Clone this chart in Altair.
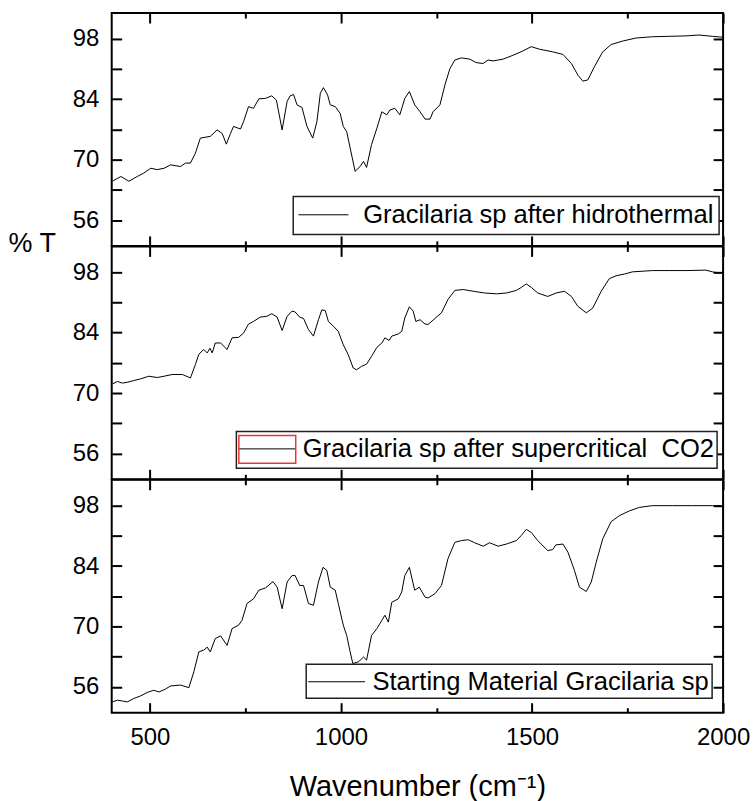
import altair as alt
import pandas as pd

FONT = "Liberation Sans"
W = 613
H = 233.5
X_DOMAIN = [400, 2000]
Y_DOMAIN = [50, 104]
MAJOR_X = [500, 1000, 1500, 2000]
MINOR_X = [750, 1250, 1750]
Y_TICKS = [56, 63, 70, 77, 84, 91, 98]

label_hydro = "Gracilaria sp after hidrothermal"
label_sc = "Gracilaria sp after supercritical\u00a0 CO2"
label_start = "Starting Material Gracilaria sp"

wn_hydro = [402, 424, 445, 467, 484, 502, 519, 537, 554, 580, 593, 606, 619, 632, 658, 676,
            689, 700, 711, 719, 737, 745, 758, 771, 785, 802, 819, 831, 846, 859, 867, 876,
            885, 898, 911, 926, 937, 946, 954, 965, 972, 985, 998, 1006, 1015, 1024, 1037,
            1050, 1059, 1067, 1080, 1094, 1107, 1120, 1128, 1141, 1154, 1167, 1179, 1193,
            1207, 1220, 1233, 1241, 1259, 1272, 1285, 1298, 1315, 1337, 1354, 1372, 1385,
            1398, 1424, 1450, 1476, 1498, 1520, 1554, 1581, 1603, 1620, 1633, 1646, 1663,
            1685, 1707, 1737, 1772, 1815, 1859, 1903, 1937, 1972, 1998]
t_hydro = [65.0, 66.1, 65.0, 66.1, 66.9, 68.0, 67.7, 68.0, 68.8, 68.4, 69.2, 69.2, 71.5, 75.0,
           75.4, 76.9, 76.1, 73.6, 76.1, 77.7, 77.1, 78.8, 82.3, 81.9, 84.1, 84.2, 84.8, 83.8,
           76.9, 83.5, 84.8, 85.1, 82.7, 82.1, 77.7, 75.0, 78.8, 85.4, 86.7, 85.0, 82.7, 82.3,
           80.7, 77.7, 76.5, 72.7, 67.3, 68.4, 69.6, 68.2, 73.5, 77.3, 81.1, 80.4, 81.5, 81.9,
           80.4, 84.2, 85.8, 82.7, 81.1, 79.4, 79.4, 81.1, 82.7, 87.3, 91.1, 93.1, 93.6, 93.3,
           92.5, 92.3, 93.1, 92.9, 93.3, 94.2, 95.2, 96.2, 95.6, 95.0, 94.4, 92.3, 89.6, 88.2,
           88.5, 91.5, 95.0, 96.7, 97.5, 98.2, 98.5, 98.6, 98.7, 98.9, 98.6, 98.4]

wn_sc = [402, 415, 428, 441, 458, 476, 497, 519, 537, 558, 585, 606, 619, 628, 641, 650, 657,
         663, 671, 685, 702, 715, 732, 745, 758, 771, 789, 806, 819, 833, 846, 859, 872, 880,
         892, 902, 915, 928, 941, 950, 959, 967, 980, 993, 1006, 1019, 1032, 1041, 1054, 1067,
         1080, 1094, 1107, 1115, 1126, 1133, 1150, 1159, 1167, 1179, 1189, 1196, 1207, 1220,
         1228, 1246, 1263, 1280, 1298, 1320, 1346, 1376, 1407, 1433, 1459, 1472, 1485, 1498,
         1515, 1541, 1563, 1585, 1603, 1620, 1642, 1659, 1681, 1702, 1720, 1742, 1763, 1815,
         1859, 1903, 1955, 1972, 1994]
t_sc = [72.1, 72.7, 72.3, 72.5, 72.9, 73.3, 73.9, 73.6, 73.9, 74.3, 74.3, 73.5, 76.6, 79.0,
        80.1, 79.3, 80.4, 79.3, 81.6, 81.6, 80.1, 82.8, 82.9, 83.9, 86.0, 86.6, 87.6, 87.8,
        88.4, 87.6, 84.5, 87.8, 89.0, 88.8, 87.6, 87.3, 84.7, 83.2, 87.0, 89.3, 89.1, 86.6,
        85.5, 84.3, 81.2, 78.9, 75.8, 75.4, 76.2, 76.7, 78.5, 80.6, 81.6, 82.8, 82.2, 83.2,
        83.7, 84.3, 87.4, 90.0, 89.0, 86.6, 87.0, 86.0, 85.9, 87.3, 88.6, 91.7, 93.8, 94.0,
        93.6, 93.2, 93.0, 93.2, 93.8, 94.5, 95.3, 94.5, 93.2, 92.4, 93.2, 93.6, 92.4, 90.1,
        88.6, 89.7, 93.6, 96.5, 97.2, 97.6, 98.1, 98.4, 98.4, 98.4, 98.5, 98.1, 97.8]

wn_start = [402, 415, 428, 441, 458, 476, 493, 510, 524, 541, 554, 580, 602, 615, 628, 641,
            650, 658, 671, 685, 702, 715, 732, 741, 754, 771, 785, 802, 822, 833, 846, 859,
            872, 880, 892, 902, 915, 928, 941, 953, 963, 972, 985, 993, 1006, 1015, 1024, 1031,
            1046, 1059, 1067, 1080, 1094, 1107, 1115, 1124, 1133, 1150, 1159, 1167, 1179, 1193,
            1205, 1220, 1228, 1246, 1263, 1280, 1298, 1315, 1333, 1350, 1372, 1389, 1411, 1433,
            1459, 1472, 1485, 1498, 1515, 1541, 1554, 1562, 1581, 1594, 1611, 1624, 1642, 1655,
            1668, 1685, 1707, 1729, 1755, 1781, 1815, 1868, 1920, 1972, 1994]
t_start = [52.5, 52.9, 52.7, 52.5, 53.3, 53.9, 54.7, 55.2, 54.8, 55.5, 56.2, 56.4, 55.8, 59.5,
           64.1, 64.5, 65.2, 64.1, 67.2, 67.8, 65.6, 69.5, 70.3, 71.4, 75.3, 76.4, 78.4, 78.9,
           80.4, 79.1, 74.1, 80.3, 81.8, 81.8, 79.5, 79.5, 75.3, 74.9, 80.3, 83.7, 83.0, 79.1,
           78.4, 75.3, 70.3, 67.9, 64.1, 61.4, 61.8, 62.9, 62.2, 67.9, 69.5, 71.4, 72.6, 71.0,
           75.6, 76.4, 78.0, 81.8, 83.7, 78.4, 79.1, 76.8, 76.6, 77.6, 79.5, 85.7, 89.5, 89.9,
           90.1, 89.4, 88.6, 89.4, 88.6, 89.1, 89.9, 91.1, 92.5, 91.8, 89.9, 87.6, 87.8, 88.9,
           89.1, 87.2, 83.0, 79.1, 78.1, 80.3, 84.9, 90.3, 94.3, 95.7, 96.8, 97.6, 98.0, 98.0,
           98.0, 98.0, 98.0]


def tick_axis(orient, values, size):
    return alt.Axis(orient=orient, values=values, tickSize=size, offset=-size,
                    domain=False, grid=False, labels=False, title=None,
                    tickColor="black", tickWidth=2)


def make_legend(leg, **extra):
    kw = dict(title=None, orient="none", legendX=leg["x"], legendY=leg["y"],
              symbolType=leg["path"], symbolSize=leg["size"],
              symbolOffset=leg["soff"], symbolFillColor="transparent",
              labelOffset=leg["loff"], labelFont=FONT, labelFontSize=25.6,
              labelColor="black", labelLimit=0, padding=leg["pad"])
    kw.update(extra)
    return alt.Legend(**kw)


def panel(xs, ys, label, leg, first=False, last=False, selection=None):
    df = pd.DataFrame({"wn": xs, "t": ys, "series": label})
    xs_ = alt.Scale(domain=X_DOMAIN, nice=False, zero=False)
    ys_ = alt.Scale(domain=Y_DOMAIN, nice=False, zero=False)
    base = alt.Chart(df)

    if last:
        bottom = alt.Axis(orient="bottom", values=MAJOR_X, tickSize=10, offset=-10,
                          domain=False, grid=False, labels=True, format="d",
                          labelFont=FONT, labelFontSize=24, labelColor="black",
                          labelPadding=13, labelFlush=False, labelOverlap=False,
                          title="Wavenumber (cm⁻¹)", titleFont=FONT, titleFontSize=29,
                          titleFontWeight="normal", titleColor="black",
                          titleY=93.5, titleBaseline="alphabetic",
                          tickColor="black", tickWidth=2)
    else:
        bottom = tick_axis("bottom", MAJOR_X, 10)

    ykw = dict(orient="left", values=Y_TICKS, tickSize=10, offset=-10, domain=False,
               grid=False, labelExpr="datum.value % 14 == 0 ? datum.label : ''",
               labelFont=FONT, labelFontSize=24, labelColor="black", labelPadding=13,
               labelOverlap=False, tickColor="black", tickWidth=2)
    if first:
        left = alt.Axis(title="% T", titleFont=FONT, titleFontSize=27,
                        titleFontWeight="normal", titleColor="black", titleAngle=0,
                        titleAlign="left", titleBaseline="middle",
                        titleX=-114, titleY=231.5, **ykw)
    else:
        left = alt.Axis(title=None, **ykw)

    legend = make_legend(leg, symbolStrokeWidth=1, strokeColor="#222222",
                         fillColor="white")

    line = base.mark_line(strokeWidth=1).encode(
        x=alt.X("wn:Q", scale=xs_, axis=bottom),
        y=alt.Y("t:Q", scale=ys_, axis=left),
        color=alt.Color("series:N", scale=alt.Scale(range=["black"]), legend=legend),
    )

    enc2 = dict(
        x=alt.X("wn:Q", scale=xs_, axis=tick_axis("bottom", MINOR_X, 5)),
        y=alt.Y("t:Q", scale=ys_, axis=alt.Axis(orient="right", values=Y_TICKS, tickSize=10,
                                                 offset=-10, domain=False, grid=False,
                                                 labels=False, title=None,
                                                 tickColor="black", tickWidth=2)),
    )
    if selection is not None:
        sel_leg = dict(leg)
        sel_leg.update(selection)
        enc2["stroke"] = alt.Stroke(
            "series:N",
            scale=alt.Scale(range=["#ee3535"]),
            legend=make_legend(sel_leg, symbolStrokeWidth=1.5, symbolOpacity=1,
                               labelOpacity=0, strokeColor="transparent",
                               fillColor="transparent", zindex=2),
        )
        layer2 = base.mark_line(strokeOpacity=0).encode(**enc2)
    else:
        layer2 = base.mark_line(opacity=0).encode(**enc2)

    layer3 = base.mark_line(opacity=0).encode(
        x=alt.X("wn:Q", scale=xs_, axis=tick_axis("top", MAJOR_X, 10)),
        y=alt.Y("t:Q", scale=ys_, axis=None),
    )
    layer4 = base.mark_line(opacity=0).encode(
        x=alt.X("wn:Q", scale=xs_, axis=tick_axis("top", MINOR_X, 5)),
        y=alt.Y("t:Q", scale=ys_, axis=None),
    )
    return (alt.layer(line, layer2, layer3, layer4)
            .resolve_axis(x="independent", y="independent")
            .properties(width=W, height=H))


p1 = panel(wn_hydro, t_hydro, label_hydro,
           dict(x=182, y=184, path="M-2.5,0H2.5", size=400, soff=12, loff=27, pad=5.5),
           first=True)
p2 = panel(wn_sc, t_sc, label_sc,
           dict(x=125, y=185.5,
                path="M-2.036,-1L-2.036,-1M-2.036,0H2.036M2.036,1L2.036,1",
                size=784, soff=13.5, loff=21, pad=3),
           selection=dict(path="M-2.036,-1H2.036V1H-2.036Z", soff=13))
p3 = panel(wn_start, t_start, label_start,
           dict(x=195, y=185, path="M-1.966,0H1.966", size=841, soff=13, loff=21, pad=2.5),
           last=True)

chart = (
    alt.vconcat(p1, p2, p3, spacing=0, bounds="flush")
    .resolve_scale(color="independent", stroke="independent")
    .properties(padding={"left": 7, "right": 5, "top": 10, "bottom": 0},
                background="white")
    .configure_view(stroke="black", strokeWidth=2)
    .configure_legend(strokeWidth=1.5)
)

chart.save("out.html", embed_options={"renderer": "svg", "actions": False})
